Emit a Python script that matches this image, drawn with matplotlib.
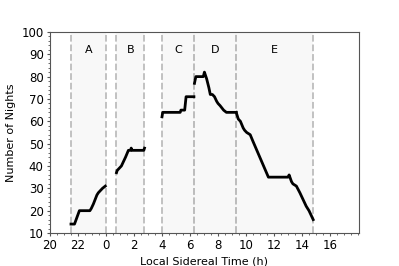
import matplotlib
matplotlib.use("Agg")
import matplotlib.pyplot as plt
from matplotlib.ticker import AutoMinorLocator, FuncFormatter

# Data: Local Sidereal Time (h) and number of nights, per region
a_lst = [21.50, 21.75, 22.10, 22.85, 22.95, 23.10, 23.35, 23.45, 23.75, 23.95]
a_n = [14, 14, 20, 20, 21, 23, 27, 28, 30, 31]
b_lst = [0.75, 0.80, 1.10, 1.40, 1.60, 1.75, 1.80, 1.85, 2.70, 2.75]
b_n = [37, 38, 40, 44, 47, 47, 48, 47, 47, 48]
c_lst = [4.00, 4.05, 5.30, 5.35, 5.62, 5.72, 6.28]
c_n = [62, 64, 64, 65, 65, 71, 71]
d_lst = [6.32, 6.35, 6.42, 6.55, 6.95, 7.03, 7.19, 7.35, 7.45, 7.60, 7.75,
         7.90, 8.00, 8.15, 8.40, 8.60, 9.20, 9.30]
d_n = [77, 78, 80, 80, 80, 82, 79, 75, 72, 72, 71, 69, 68, 67, 65, 64, 64, 64]
e_lst = [9.30, 9.45, 9.60, 9.80, 9.90, 10.05, 10.30, 10.50, 11.60, 13.00,
         13.08, 13.25, 13.35, 13.60, 13.85, 14.30, 14.50, 14.80]
e_n = [64, 61, 60, 57, 56, 55, 54, 51, 35, 35, 36, 33, 32, 31, 28, 22, 20, 16]

region_labels = ["A", "B", "C", "D", "E"]
region_edges = [(21.5, 24.0), (0.75, 2.75), (4.0, 6.3), (6.3, 9.3), (9.3, 14.8)]
y_ticks = [10, 20, 30, 40, 50, 60, 70, 80, 90, 100]
x_ticks = [20, 22, 0, 2, 4, 6, 8, 10, 12, 14, 16]


def unwrap(h):
    return h + 24 if h < 20 else h


fig = plt.figure(figsize=(3.99, 2.66), dpi=100)
ax = fig.add_axes([0.1253, 0.124, 0.7744, 0.756])

for lab, (lo, hi) in zip(region_labels, region_edges):
    lo_u, hi_u = unwrap(lo), unwrap(hi)
    if lo_u > hi_u:
        hi_u += 24
    ax.axvspan(lo_u, hi_u, color="#f8f8f8", zorder=0, lw=0)
    for v in (lo_u, hi_u):
        ax.axvline(v, color="#bdbdbd", ls="--", lw=1.3, zorder=1)
    ax.text((lo_u + hi_u) / 2, 89.8, lab, ha="center", va="bottom", fontsize=8)

for xs, ys in [(a_lst, a_n), (b_lst, b_n), (c_lst, c_n), (d_lst, d_n), (e_lst, e_n)]:
    ax.plot([unwrap(x) for x in xs], ys, color="black", lw=2, zorder=3)

ax.set_xlim(20, 42.07)
ax.set_ylim(10, 100)
ax.set_xticks([unwrap(t) for t in x_ticks])
ax.xaxis.set_major_formatter(FuncFormatter(lambda v, p: f"{int(round(v)) % 24}"))
ax.set_yticks(y_ticks)
ax.xaxis.set_minor_locator(AutoMinorLocator(4))
ax.yaxis.set_minor_locator(AutoMinorLocator(5))
ax.tick_params(which="major", labelsize=8.5, length=2.5, width=0.8, pad=2,
               color="#555555", labelcolor="black")
ax.tick_params(which="minor", length=1.5, width=0.6, color="#555555")
for s in ax.spines.values():
    s.set_color("#555555")
ax.set_xlabel("Local Sidereal Time (h)", fontsize=8, labelpad=3)
ax.set_ylabel("Number of Nights", fontsize=8, labelpad=4)

fig.savefig("out.png", dpi=100)
